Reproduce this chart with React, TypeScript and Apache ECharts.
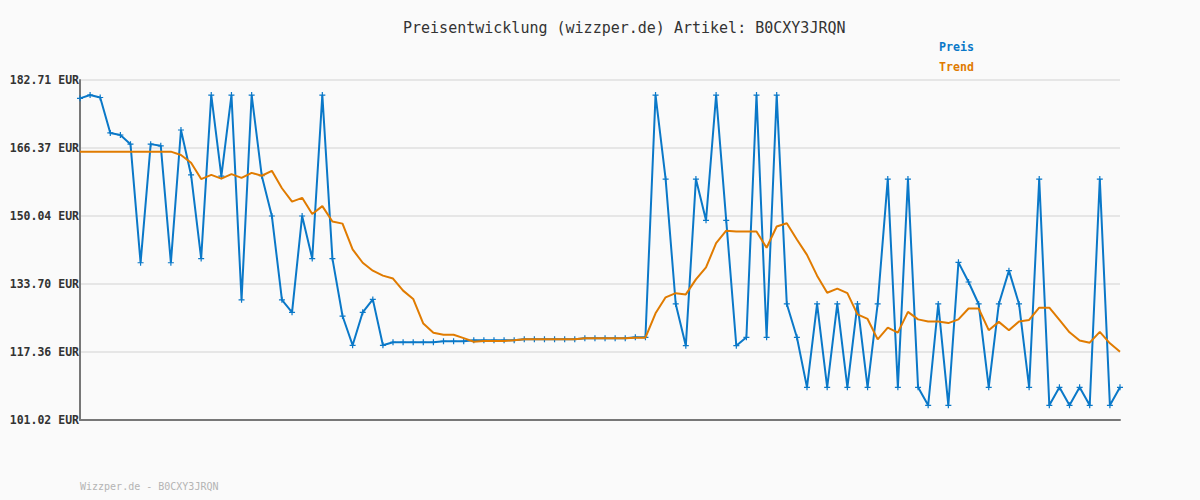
import React, { useEffect, useRef } from "react";
import * as echarts from "echarts";

const priceValues: number[] = [
  178.3, 179.1, 178.5, 170.0, 169.5, 167.3, 138.8, 167.3, 166.9, 138.8,
  170.7, 159.9, 139.8, 179.1, 159.6, 179.1, 129.9, 179.1, 159.7, 150.04,
  129.9, 126.9, 150.04, 139.8, 179.1, 139.8, 126.0, 118.97, 126.9, 130.0,
  118.97, 119.7, 119.7, 119.7, 119.7, 119.7, 119.93, 119.93, 119.93, 120.17,
  120.17, 120.17, 120.17, 120.17, 120.41, 120.41, 120.41, 120.41, 120.41, 120.41,
  120.65, 120.65, 120.65, 120.65, 120.65, 120.89, 120.89, 179.1, 158.9, 128.9,
  118.87, 158.9, 149.0, 179.1, 149.0, 118.87, 120.89, 179.1, 120.89, 179.1,
  128.9, 120.89, 108.87, 128.9, 108.87, 128.9, 108.87, 128.9, 108.87, 128.9,
  158.9, 108.87, 158.9, 108.87, 104.55, 128.9, 104.55, 138.9, 134.18, 128.9,
  108.87, 128.9, 136.9, 128.9, 108.87, 158.9, 104.55, 108.87, 104.55, 108.87,
  104.55, 158.9, 104.55, 108.87,
];

const trendValues: number[] = [
  165.49, 165.49, 165.49, 165.49, 165.49, 165.49, 165.49, 165.49, 165.49, 165.49,
  164.7, 162.84, 158.9, 159.9, 159.0, 160.1, 159.2, 160.4, 159.7, 160.9,
  156.7, 153.5, 154.4, 150.5, 152.4, 148.7, 148.2, 142.0, 138.8, 136.9,
  135.7, 135.0, 132.1, 130.1, 124.2, 122.0, 121.5, 121.5, 120.7, 119.83,
  120.0, 120.0, 120.0, 120.17, 120.4, 120.4, 120.4, 120.4, 120.4, 120.4,
  120.65, 120.65, 120.65, 120.65, 120.65, 120.8, 120.8, 126.65, 130.5, 131.5,
  131.2, 134.8, 137.7, 143.5, 146.5, 146.3, 146.3, 146.3, 142.4, 147.5,
  148.3, 144.4, 140.7, 135.7, 131.6, 132.6, 131.5, 126.4, 125.3, 120.4,
  123.2, 122.0, 127.0, 125.2, 124.7, 124.7, 124.3, 125.2, 127.8, 127.8,
  122.6, 124.6, 122.6, 124.7, 125.05, 128.0, 128.0, 125.05, 122.1, 120.1,
  119.6, 122.2, 119.45, 117.4,
];

const categories: string[] = priceValues.map((_, i) => String(i + 1));

const yTicks: number[] = [101.02, 117.36, 133.7, 150.04, 166.37, 182.71];

const seriesNames: string[] = ["Preis", "Trend"];

const titleText = "Preisentwicklung (wizzper.de) Artikel: B0CXY3JRQN";
const footerText = "Wizzper.de - B0CXY3JRQN";

const BLUE = "#0a78c8";
const ORANGE = "#e07b00";
const MONO = "'DejaVu Sans Mono', monospace";

export default function App() {
  const ref = useRef<HTMLDivElement>(null);

  useEffect(() => {
    document.body.style.margin = "0";
    if (!ref.current) return;
    const chart = echarts.init(ref.current, undefined, { renderer: "svg" });
    chart.setOption({
      animation: false,
      backgroundColor: "#fafafa",
      title: {
        text: titleText,
        left: 403,
        top: 20,
        padding: 0,
        textStyle: {
          fontFamily: MONO,
          fontSize: 15,
          fontWeight: "normal",
          color: "#333",
        },
      },
      legend: {
        orient: "vertical",
        left: 934,
        top: 40,
        padding: 0,
        itemGap: 6,
        itemWidth: 0,
        itemHeight: 0,
        icon: "none",
        selectedMode: false,
        data: [
          { name: seriesNames[0], textStyle: { color: BLUE } },
          { name: seriesNames[1], textStyle: { color: ORANGE } },
        ],
        textStyle: {
          fontFamily: MONO,
          fontSize: 11.6,
          fontWeight: "bold",
          lineHeight: 14,
        },
      },
      grid: { left: 80, right: 80, top: 80, bottom: 80, containLabel: false },
      xAxis: {
        type: "category",
        data: categories,
        boundaryGap: false,
        axisLine: { show: true, lineStyle: { color: "#777", width: 2 } },
        axisTick: { show: false },
        axisLabel: { show: false },
        splitLine: { show: false },
      },
      yAxis: {
        type: "value",
        min: yTicks[0],
        max: yTicks[yTicks.length - 1],
        axisLine: { show: true, onZero: false, lineStyle: { color: "#777", width: 2 } },
        axisTick: { show: false, customValues: yTicks },
        axisLabel: {
          customValues: yTicks,
          formatter: (v: number) => v.toFixed(2) + " EUR",
          fontFamily: MONO,
          fontSize: 11.5,
          fontWeight: "bold",
          color: "#333",
          margin: 1,
        },
        splitLine: { show: true, lineStyle: { color: "#e6e6e6", width: 2 } },
      },
      series: [
        {
          name: seriesNames[0],
          type: "line",
          data: priceValues,
          symbol: "path://M2,0H3V2H5V3H3V5H2V3H0V2H2Z",
          symbolSize: 6,
          showAllSymbol: true,
          itemStyle: { color: BLUE },
          lineStyle: { color: BLUE, width: 2 },
          z: 2,
        },
        {
          name: seriesNames[1],
          type: "line",
          data: trendValues,
          symbol: "none",
          itemStyle: { color: ORANGE },
          lineStyle: { color: ORANGE, width: 2 },
          z: 3,
        },
      ],
      graphic: [
        {
          type: "text",
          left: 80,
          top: 481,
          style: {
            text: footerText,
            fontFamily: MONO,
            fontSize: 10,
            fill: "#b4b4b4",
          },
        },
      ],
    });
    return () => chart.dispose();
  }, []);

  return <div ref={ref} style={{ width: 1200, height: 500 }} />;
}
